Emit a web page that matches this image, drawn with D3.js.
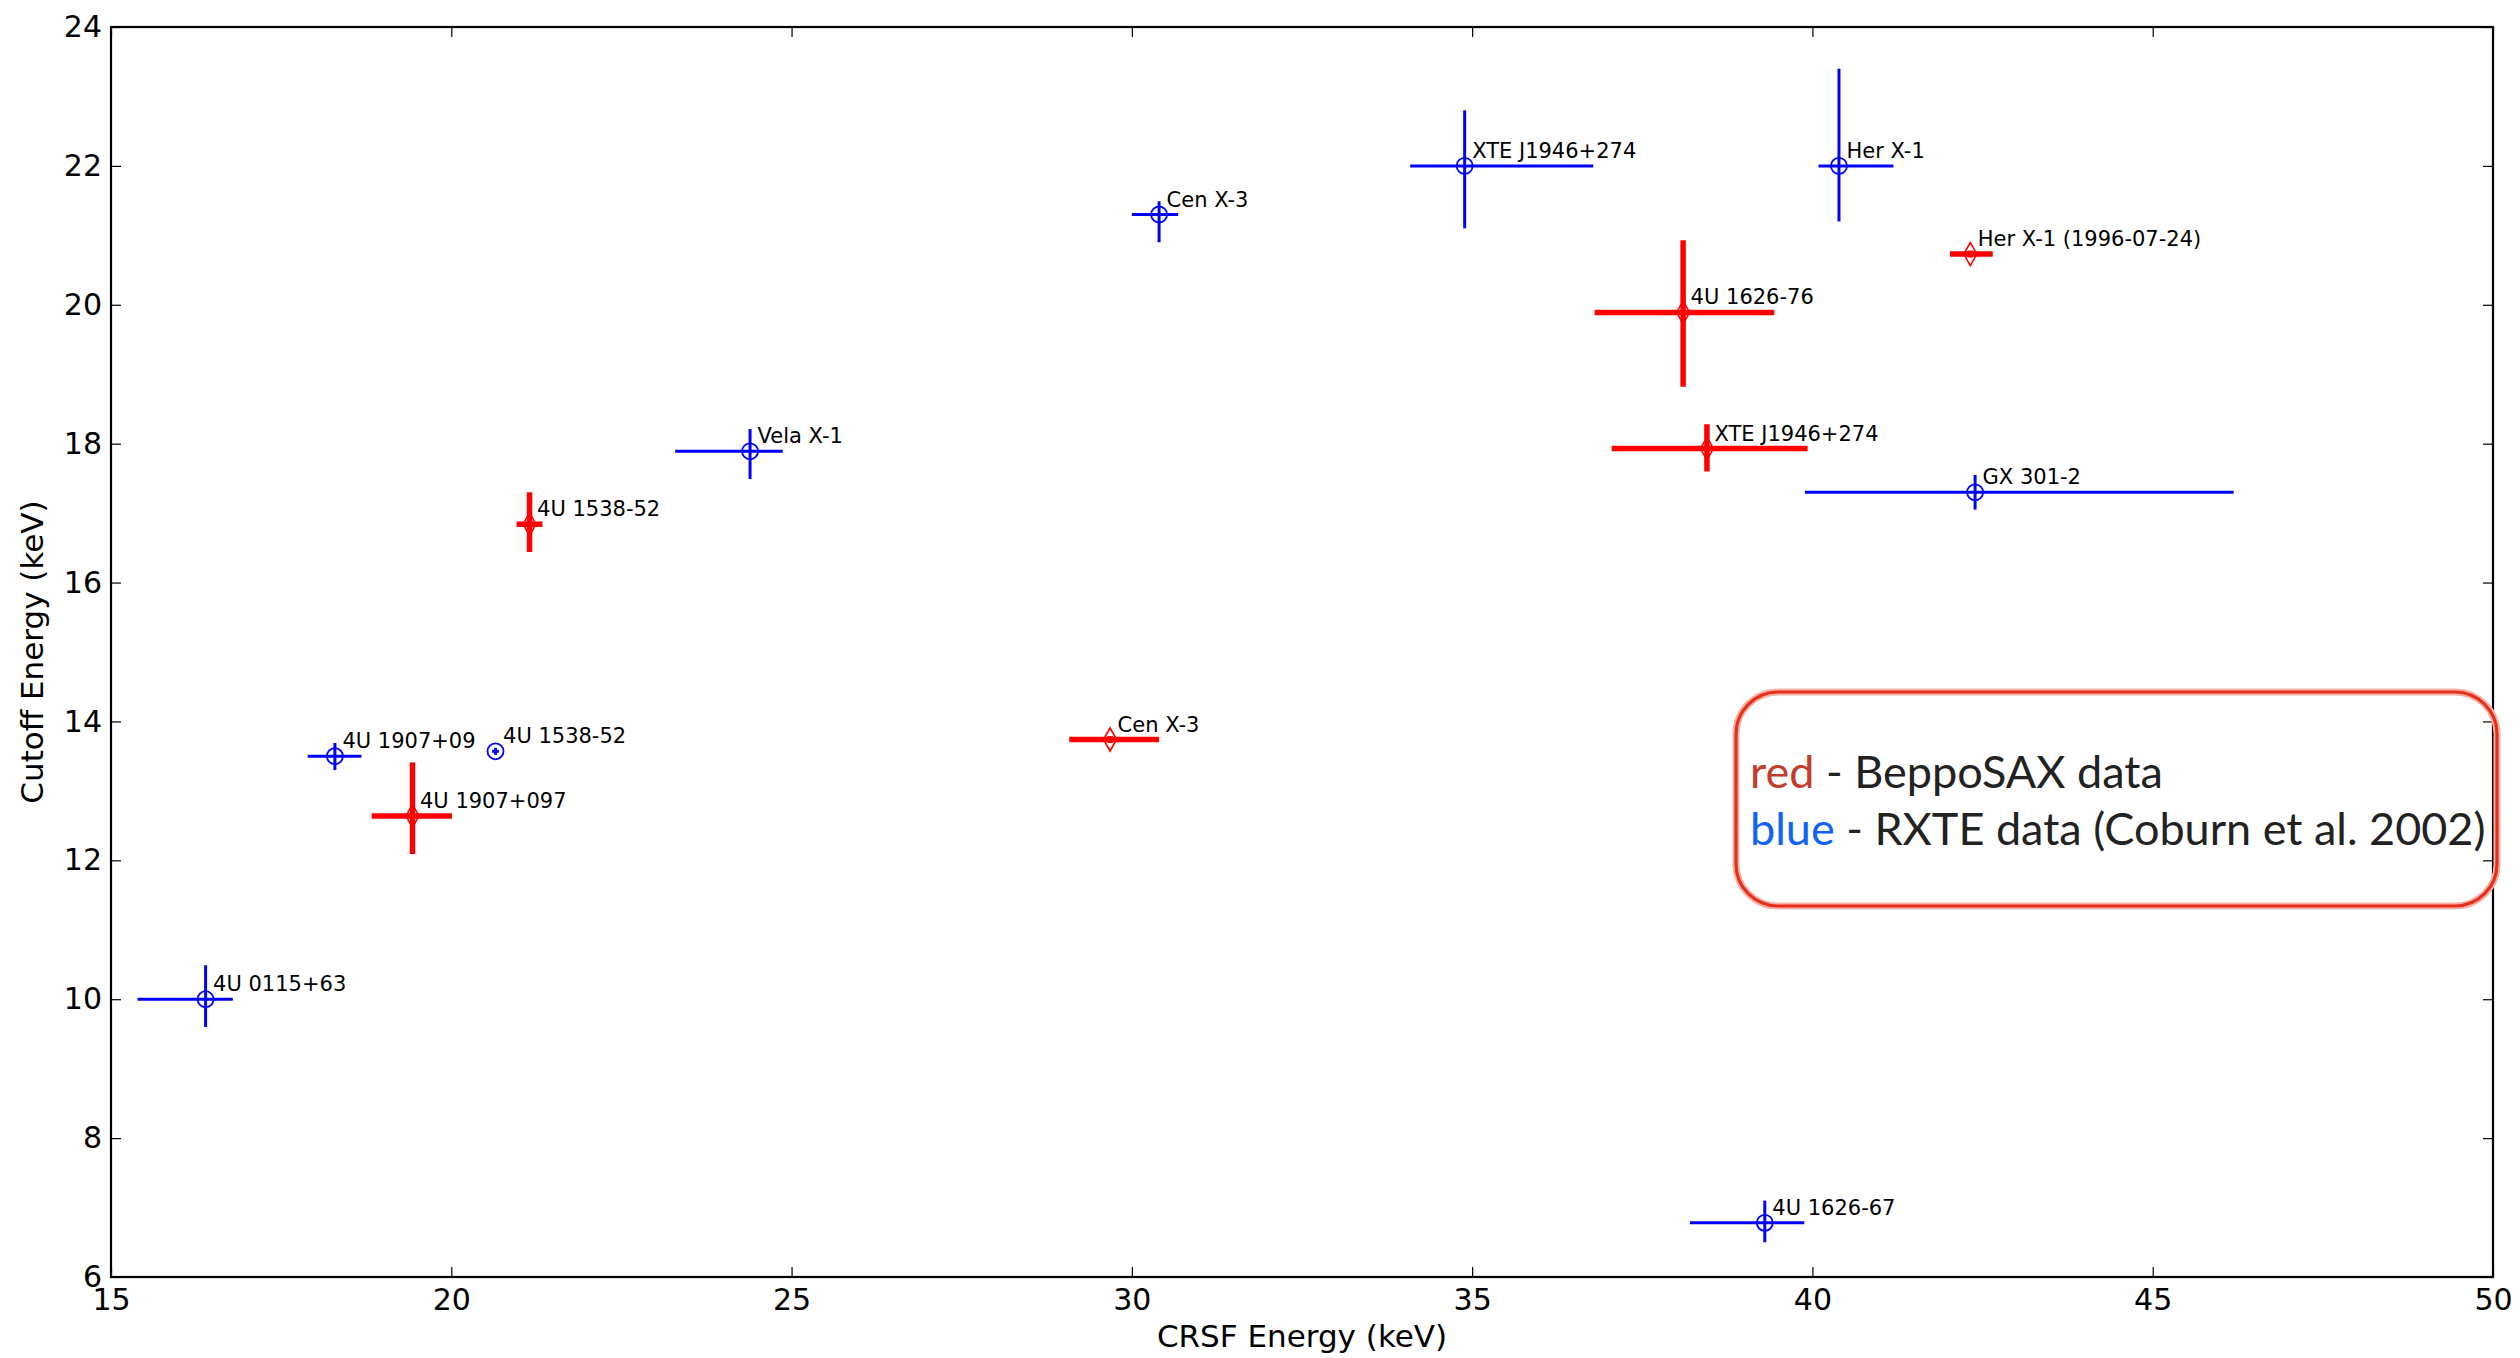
<!DOCTYPE html>
<html>
<head>
<meta charset="utf-8">
<script src="https://cdn.jsdelivr.net/npm/d3@7"></script>
<style>
  html, body { margin: 0; padding: 0; background: #fff; }
  svg { display: block; }
</style>
</head>
<body>
<svg id="chart" width="2520" height="1358"></svg>
<script>
// BeppoSAX measurements (red)
const saxNames    = ["4U 1907+097", "4U 1538-52", "Cen X-3", "4U 1626-76", "XTE J1946+274", "Her X-1 (1996-07-24)"];
const saxCrsf     = [19.43, 21.15, 29.68, 38.10, 38.45, 42.32];
const saxCrsfLo   = [0.60, 0.19, 0.60, 1.30, 1.40, 0.30];
const saxCrsfHi   = [0.58, 0.19, 0.72, 1.34, 1.48, 0.33];
const saxCut      = [12.64, 16.84, 13.74, 19.89, 17.93, 20.73];
const saxCutLo    = [0.55, 0.40, 0.05, 1.07, 0.33, 0.05];
const saxCutHi    = [0.77, 0.46, 0.05, 1.04, 0.35, 0.05];

// RXTE measurements (blue, Coburn et al. 2002)
const xteNames    = ["4U 0115+63", "4U 1907+09", "4U 1538-52", "Vela X-1", "Cen X-3", "XTE J1946+274", "4U 1626-67", "Her X-1", "GX 301-2"];
const xteCrsf     = [16.39, 18.29, 20.65, 24.39, 30.40, 34.89, 39.30, 40.39, 42.39];
const xteCrsfLo   = [1.00, 0.40, 0.05, 1.10, 0.40, 0.80, 1.10, 0.30, 2.50];
const xteCrsfHi   = [0.40, 0.39, 0.05, 0.48, 0.28, 1.89, 0.58, 0.80, 3.80];
const xteCut      = [10.00, 13.50, 13.57, 17.89, 21.30, 22.00, 6.78, 22.00, 17.30];
const xteCutLo    = [0.40, 0.20, 0.05, 0.40, 0.40, 0.90, 0.28, 0.80, 0.25];
const xteCutHi    = [0.49, 0.19, 0.05, 0.32, 0.19, 0.80, 0.32, 1.40, 0.25];

// Axes
const xDomain = [15, 50];
const yDomain = [6, 24];
const xTicks = [15, 20, 25, 30, 35, 40, 45, 50];
const yTicks = [6, 8, 10, 12, 14, 16, 18, 20, 22, 24];
const xTitle = "CRSF Energy (keV)";
const yTitle = "Cutoff Energy (keV)";

// Legend note
const legendLines = [
  { key: "red",  keyColor: "#c43c2c", rest: " - BeppoSAX data" },
  { key: "blue", keyColor: "#1262f5", rest: " - RXTE data (Coburn et al. 2002)" }
];

const plot = { left: 111, right: 2493, top: 27, bottom: 1277 };

const svg = d3.select("#chart");
const x = d3.scaleLinear().domain(xDomain).range([plot.left, plot.right]);
const y = d3.scaleLinear().domain(yDomain).range([plot.bottom, plot.top]);

const tickFont = "'DejaVu Sans', sans-serif";

// Inward ticks on all four sides
function styleAxis(g) {
  g.select(".domain").remove();
  g.selectAll(".tick line").attr("stroke", "#000").attr("stroke-width", 1.2);
  g.selectAll(".tick text").attr("font-family", tickFont).attr("font-size", 30).attr("fill", "#000");
}

svg.append("g")
  .attr("transform", `translate(0,${plot.bottom})`)
  .call(d3.axisBottom(x).tickValues(xTicks).tickFormat(d3.format("d")).tickSizeInner(-10).tickPadding(12))
  .call(styleAxis);
svg.append("g")
  .attr("transform", `translate(0,${plot.top})`)
  .call(d3.axisTop(x).tickValues(xTicks).tickFormat("").tickSizeInner(-10))
  .call(styleAxis);
svg.append("g")
  .attr("transform", `translate(${plot.left},0)`)
  .call(d3.axisLeft(y).tickValues(yTicks).tickFormat(d3.format("d")).tickSizeInner(-10).tickPadding(9))
  .call(styleAxis);
svg.append("g")
  .attr("transform", `translate(${plot.right},0)`)
  .call(d3.axisRight(y).tickValues(yTicks).tickFormat("").tickSizeInner(-10))
  .call(styleAxis);

// Frame
svg.append("rect")
  .attr("x", plot.left).attr("y", plot.top)
  .attr("width", plot.right - plot.left).attr("height", plot.bottom - plot.top)
  .attr("fill", "none").attr("stroke", "#000").attr("stroke-width", 2.2);

// Axis titles
svg.append("text")
  .attr("x", (plot.left + plot.right) / 2).attr("y", 1347)
  .attr("text-anchor", "middle")
  .attr("font-family", tickFont).attr("font-size", 31)
  .text(xTitle);
svg.append("text")
  .attr("transform", `translate(43,${(plot.top + plot.bottom) / 2}) rotate(-90)`)
  .attr("text-anchor", "middle")
  .attr("font-family", tickFont).attr("font-size", 31)
  .text(yTitle);

function buildRows(names, cx, cxLo, cxHi, cy, cyLo, cyHi) {
  return names.map((n, i) => ({
    name: n, x: cx[i], xlo: cx[i] - cxLo[i], xhi: cx[i] + cxHi[i],
    y: cy[i], ylo: cy[i] - cyLo[i], yhi: cy[i] + cyHi[i]
  }));
}

const saxRows = buildRows(saxNames, saxCrsf, saxCrsfLo, saxCrsfHi, saxCut, saxCutLo, saxCutHi);
const xteRows = buildRows(xteNames, xteCrsf, xteCrsfLo, xteCrsfHi, xteCut, xteCutLo, xteCutHi);

function drawSeries(rows, color, lineW, marker) {
  const g = svg.append("g");
  const pts = g.selectAll("g.pt").data(rows).join("g").attr("class", "pt");
  pts.append("line")
    .attr("x1", d => x(d.xlo)).attr("x2", d => x(d.xhi))
    .attr("y1", d => y(d.y)).attr("y2", d => y(d.y))
    .attr("stroke", color).attr("stroke-width", lineW);
  pts.append("line")
    .attr("x1", d => x(d.x)).attr("x2", d => x(d.x))
    .attr("y1", d => y(d.ylo)).attr("y2", d => y(d.yhi))
    .attr("stroke", color).attr("stroke-width", lineW);
  if (marker === "circle") {
    pts.append("circle")
      .attr("cx", d => x(d.x)).attr("cy", d => y(d.y)).attr("r", 8)
      .attr("fill", "none").attr("stroke", color).attr("stroke-width", 1.8);
  } else {
    // thin diamond
    pts.append("path")
      .attr("d", d => {
        const px = x(d.x), py = y(d.y);
        return `M${px},${py - 11.5}L${px + 6.5},${py}L${px},${py + 11.5}L${px - 6.5},${py}Z`;
      })
      .attr("fill", "none").attr("stroke", color).attr("stroke-width", 1.6);
  }
  pts.append("text")
    .attr("x", d => x(d.x) + 7.5).attr("y", d => y(d.y) - 8)
    .attr("font-family", tickFont).attr("font-size", 21).attr("fill", "#000")
    .text(d => d.name);
}

drawSeries(xteRows, "#0000ff", 3, "circle");
drawSeries(saxRows, "#ff0000", 5.5, "diamond");

// Legend note box
const box = { x: 1736, y: 692, w: 761, h: 214 };
svg.append("rect")
  .attr("x", box.x).attr("y", box.y).attr("width", box.w).attr("height", box.h)
  .attr("rx", 42).attr("ry", 42)
  .attr("fill", "none").attr("stroke", "#f3b0a5").attr("stroke-width", 7);
svg.append("rect")
  .attr("x", box.x).attr("y", box.y).attr("width", box.w).attr("height", box.h)
  .attr("rx", 42).attr("ry", 42)
  .attr("fill", "none").attr("stroke", "#e6301a").attr("stroke-width", 3.2);

const legend = svg.append("g").attr("font-family", "Lato, 'Open Sans', sans-serif").attr("font-size", 45);
legendLines.forEach((ln, i) => {
  const t = legend.append("text").attr("x", 1750).attr("y", 788 + i * 57).attr("fill", "#222");
  t.append("tspan").attr("fill", ln.keyColor).text(ln.key);
  t.append("tspan").text(ln.rest);
});
</script>
</body>
</html>
